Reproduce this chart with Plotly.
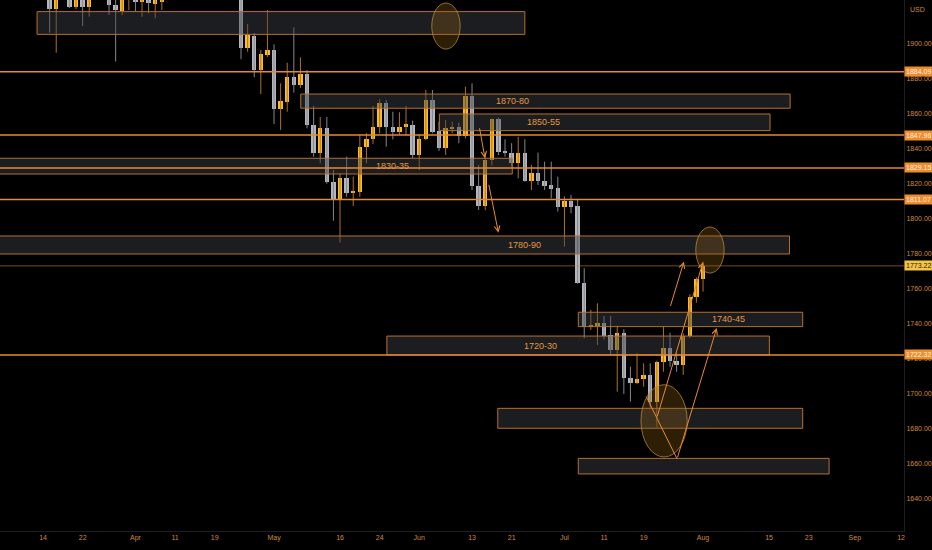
import plotly.graph_objects as go
import pandas as pd
import numpy as np

# ---- daily bars (XAUUSD, 14 Mar 2022 .. 1 Aug 2022, weekdays) ----
dates = pd.bdate_range("2022-03-14", "2022-08-01").strftime("%Y-%m-%d").tolist()

opens = [1985, 1955, 1920, 1928, 1943, 1921, 1936, 1921, 1944, 1958,
         1954, 1922, 1919, 1933, 1937, 1924, 1933, 1923, 1924, 1931,
         1946, 1954, 1966, 1977, 1974, 1975, 1978, 1950, 1957, 1950,
         1932, 1897.5, 1904.6, 1885.1, 1893.7, 1896.6, 1862.7, 1867, 1880.9, 1876.6,
         1882.7, 1853.7, 1837.5, 1852.2, 1821.3, 1810.9, 1823.6, 1814.7, 1815.6, 1841.3,
         1845.5, 1852.7, 1866.1, 1852.7, 1849.9, 1852.7, 1853.7, 1836.6, 1845.5, 1868,
         1850.3, 1840.7, 1851.2, 1852.7, 1847.4, 1870.3, 1818.9, 1807.4, 1833.7, 1857,
         1838.9, 1837.9, 1832.2, 1837.5, 1821.9, 1826.1, 1821.9, 1819.4, 1817.5, 1806.7,
         1810.5, 1807.4, 1763.6, 1738.1, 1739.4, 1740.4, 1733.7, 1725.1, 1735, 1709,
         1706.5, 1708.4, 1710.9, 1695.6, 1718.1, 1726.1, 1719, 1716.6, 1733.3, 1755.6,
         1765.5]
highs = [1990, 1960, 1949, 1950, 1948, 1937, 1939, 1949, 1966, 1966,
         1960, 1939, 1936, 1950, 1941, 1935, 1945, 1932, 1938, 1948,
         1959, 1979, 1982, 1978, 1980, 1998, 1986, 1959, 1960, 1955,
         1936, 1911.4, 1906.3, 1896.6, 1919.4, 1899.8, 1877.5, 1889.3, 1909.5, 1892.4,
         1885.1, 1864.6, 1858.3, 1858.3, 1828, 1826.1, 1835.6, 1824.2, 1848, 1849,
         1864.6, 1868.4, 1868, 1861.3, 1861, 1864.6, 1856.2, 1848, 1873.7, 1873.7,
         1855.6, 1856.6, 1855.6, 1855, 1875.6, 1877.5, 1830.9, 1838, 1857.5, 1858,
         1845.5, 1843.3, 1847, 1845.5, 1830.9, 1837.9, 1832.8, 1832.8, 1824.2, 1813,
         1813.7, 1811.5, 1771.8, 1748, 1751.8, 1744.6, 1744.6, 1739, 1737, 1715.6,
         1723.3, 1717.5, 1717.5, 1719, 1738.5, 1735, 1724.2, 1734.7, 1757, 1766.7,
         1775.6]
lows = [1950, 1906.5, 1895, 1927, 1920.5, 1920, 1910.3, 1915.6, 1943, 1944,
        1916.6, 1890, 1916.6, 1919.4, 1918.5, 1915.6, 1917.5, 1914.7, 1919.4, 1926,
        1941, 1950, 1960, 1960, 1970, 1972, 1941, 1941, 1940, 1928,
        1891.3, 1895.6, 1881, 1871.4, 1892.6, 1854.3, 1850.9, 1861.3, 1872.2, 1874.9,
        1851.8, 1835.6, 1831.8, 1820.2, 1799, 1786.5, 1812.7, 1807.4, 1812.7, 1831.8,
        1842.9, 1849, 1841.3, 1845.5, 1848, 1848, 1834.7, 1828, 1845, 1849,
        1838.9, 1836.6, 1849, 1843.3, 1846.1, 1816.5, 1805.1, 1805, 1830.5, 1836.6,
        1835.6, 1829.9, 1823.2, 1821.3, 1816.6, 1819.4, 1816.6, 1811.8, 1804.2, 1784.2,
        1803.3, 1763, 1731.8, 1736.6, 1728, 1731.2, 1722.3, 1701.3, 1700, 1695.6,
        1705.7, 1704.2, 1692.2, 1681, 1712.7, 1715.6, 1712.7, 1710.9, 1732, 1752.2,
        1758.5]
closes = [1955, 1920, 1928, 1943, 1921, 1936, 1921.3, 1944, 1958, 1954,
          1922.3, 1919.5, 1933, 1937, 1924.2, 1933, 1923.2, 1925.5, 1931, 1946,
          1954, 1966, 1977, 1974, 1975, 1978, 1950, 1957, 1950, 1932,
          1897.5, 1905.1, 1885.1, 1894.1, 1896.6, 1862.7, 1867.4, 1880.9, 1876.6, 1882.9,
          1853.7, 1837.5, 1852.2, 1821.3, 1810.9, 1823.6, 1814.7, 1816, 1841.3, 1845.5,
          1852.7, 1866.1, 1852.7, 1849.9, 1852.7, 1854.1, 1836.6, 1845.5, 1868, 1849.9,
          1840.7, 1851.8, 1852.7, 1847.4, 1870.3, 1818.9, 1807.4, 1833.7, 1857, 1838.5,
          1837.5, 1832.2, 1837.5, 1821.9, 1826.1, 1821.9, 1818.9, 1817, 1806.7, 1810.5,
          1806.7, 1763.6, 1738.1, 1739.4, 1740.4, 1733.1, 1725.1, 1735, 1709, 1706.5,
          1708.6, 1710.9, 1695.6, 1718.1, 1726.1, 1719, 1716.6, 1733.3, 1755.6, 1765.5,
          1773.22]

# ---- time axis labels (bar offsets from 14 Mar, weekdays incl. future) ----
tick_dates = ["2022-03-14", "2022-03-22", "2022-04-01", "2022-04-11", "2022-04-19",
              "2022-05-02", "2022-05-16", "2022-05-24", "2022-06-01", "2022-06-13",
              "2022-06-21", "2022-07-01", "2022-07-11", "2022-07-19", "2022-08-01",
              "2022-08-15", "2022-08-23", "2022-09-01", "2022-09-12"]
tick_text = ["14", "22", "Apr", "11", "19", "May", "16", "24", "Jun", "13",
             "21", "Jul", "11", "19", "Aug", "15", "23", "Sep", "12"]

price_ticks = [1640, 1660, 1680, 1700, 1720, 1740, 1760, 1780, 1800, 1820,
               1840, 1860, 1880, 1900]

# ---- drawn levels ----
h_levels = [1884.09, 1847.96, 1829.15, 1811.07, 1722.32]
last_price = 1773.22

# zones: bar-offset extents and price bounds
zone_x0 = [-0.9, 39.05, 60.05, -10, -10, 81.1, 52.1, 68.9, 81.1]
zone_x1 = [73.0, 113.2, 110.15, 71.1, 113.1, 115.1, 110.05, 115.1, 119.1]
zone_lo = [1905.5, 1863.3, 1850.5, 1825.7, 1780.0, 1738.5, 1722.3, 1680.4, 1654.3]
zone_hi = [1918.5, 1871.4, 1860.0, 1834.7, 1790.3, 1746.7, 1733.1, 1691.8, 1663.2]
zone_text = ["", "1870-80", "1850-55", "1830-35", "1780-90", "1740-45", "1720-30", "", ""]
zone_tx = [0, 71.1, 75.9, 52.9, 73.0, 103.9, 75.3, 0, 0]

# ellipses
ell_x0 = [58.9, 98.9, 90.6]
ell_x1 = [63.2, 103.2, 97.6]
ell_lo = [1897.1, 1769.1, 1664.0]
ell_hi = [1923.4, 1795.4, 1705.3]

# arrows / paths (bar offset, price)
arrows = [((66.1, 1852.7), (66.96, 1834.7)),
          ((67.5, 1820.4), (69.0, 1792.2)),
          ((95.0, 1749.5), (97.1, 1775.6)),
          ((93.0, 1686.3), (100.0, 1775.4)),
          ((96.06, 1662.9), (102.07, 1737.7))]
plain_segments = [((91.4, 1698.5), (93.0, 1686.3)),
                  ((93.0, 1686.3), (96.06, 1662.9))]

# ---------------- build -----------------
idx = np.arange(len(dates))
o = np.array(opens); h = np.array(highs); l = np.array(lows); c = np.array(closes)
up = c >= o

UP_BODY = "#fbbd2c"
UP_WICK = "#b0731f"
DN_BODY = "#b3b6bd"
DN_WICK = "#85878d"
ORANGE = "#e98a2f"
TXT = "#cf8a3e"

fig = go.Figure()

def wick_xy(mask):
    xs, ys = [], []
    for i in idx[mask]:
        xs += [i, i, None]
        ys += [l[i], h[i], None]
    return xs, ys

for mask, col in [(up, UP_WICK), (~up, DN_WICK)]:
    xs, ys = wick_xy(mask)
    fig.add_trace(go.Scatter(x=xs, y=ys, mode="lines", line=dict(color=col, width=1),
                             hoverinfo="skip"))

body_base = np.minimum(o, c)
body_h = np.maximum(np.abs(c - o), 0.7)
fig.add_trace(go.Bar(x=idx, y=body_h, base=body_base, width=0.68,
                     marker=dict(color=[UP_BODY if u else DN_BODY for u in up], line=dict(width=0)),
                     hoverinfo="skip"))

shapes = []
annotations = []

# zones
for x0, x1, lo, hi, t, tx in zip(zone_x0, zone_x1, zone_lo, zone_hi, zone_text, zone_tx):
    shapes.append(dict(type="rect", xref="x", yref="y", x0=x0, x1=x1, y0=lo, y1=hi,
                       fillcolor="rgba(62,64,72,0.45)", line=dict(color="#b8702c", width=1),
                       layer="above"))
    if t:
        annotations.append(dict(x=tx, y=(lo + hi) / 2, xref="x", yref="y", text=t,
                                showarrow=False, font=dict(size=9, color="#e39a3c",
                                family="Liberation Sans")))

# horizontal levels
for lv in h_levels:
    shapes.append(dict(type="line", xref="paper", yref="y", x0=0, x1=1, y0=lv, y1=lv,
                       line=dict(color=ORANGE, width=1.5), layer="above"))
    annotations.append(dict(x=1, xref="paper", xanchor="left", y=lv, yref="y",
                            text=f"{lv:.2f}", showarrow=False, bgcolor="#ef8d2c",
                            borderpad=1, font=dict(size=7, color="#fff4e6",
                            family="Liberation Sans")))
# last price line
shapes.append(dict(type="line", xref="paper", yref="y", x0=0, x1=1, y0=last_price, y1=last_price,
                   line=dict(color="rgba(200,140,50,0.55)", width=1), layer="above"))
annotations.append(dict(x=1, xref="paper", xanchor="left", y=last_price, yref="y",
                        text=f"{last_price:.2f}", showarrow=False, bgcolor="#f6c444",
                        borderpad=1, font=dict(size=7, color="#1a1a1a", family="Liberation Sans")))

# ellipses
for x0, x1, lo, hi in zip(ell_x0, ell_x1, ell_lo, ell_hi):
    shapes.append(dict(type="circle", xref="x", yref="y", x0=x0, x1=x1, y0=lo, y1=hi,
                       fillcolor="rgba(150,100,20,0.30)", line=dict(color="rgba(190,140,50,0.75)", width=1),
                       layer="above"))

# path segments without heads
for (xa, ya), (xb, yb) in plain_segments:
    shapes.append(dict(type="line", xref="x", yref="y", x0=xa, y0=ya, x1=xb, y1=yb,
                       line=dict(color=ORANGE, width=1), layer="above"))

# arrows
for (xa, ya), (xb, yb) in arrows:
    annotations.append(dict(x=xb, y=yb, ax=xa, ay=ya, xref="x", yref="y", axref="x", ayref="y",
                            showarrow=True, arrowhead=5, arrowsize=1.1, arrowwidth=1,
                            arrowcolor=ORANGE, text=""))

annotations.append(dict(x=1, xref="paper", xanchor="left", xshift=4, y=1, yref="paper",
                        yanchor="top", yshift=-4, text="USD", showarrow=False,
                        font=dict(size=7, color=TXT, family="Liberation Sans")))

start = pd.Timestamp(dates[0]).date()
tick_pos = [int(np.busday_count(start, pd.Timestamp(d).date())) for d in tick_dates]

fig.update_layout(
    width=932, height=550,
    margin=dict(l=0, r=28, t=0, b=19),
    paper_bgcolor="#000000", plot_bgcolor="#000000",
    showlegend=False, bargap=0,
    shapes=shapes, annotations=annotations,
    xaxis=dict(range=[-6.52, 130.45], tickvals=tick_pos, ticktext=tick_text,
               showgrid=False, zeroline=False, showline=True, linecolor="#1e1e1e",
               ticks="", tickfont=dict(size=7, color=TXT, family="Liberation Sans"),
               fixedrange=True),
    yaxis=dict(range=[1621.7, 1925.14], side="right", tickvals=price_ticks,
               ticktext=[f"{v:.2f}" for v in price_ticks],
               showgrid=False, zeroline=False, showline=True, linecolor="#1e1e1e",
               ticks="", tickfont=dict(size=7, color=TXT, family="Liberation Sans"),
               fixedrange=True),
)

fig.write_html("out.html", config={"displayModeBar": False},
               post_script="document.body.style.margin='0';document.body.style.background='#000';")
